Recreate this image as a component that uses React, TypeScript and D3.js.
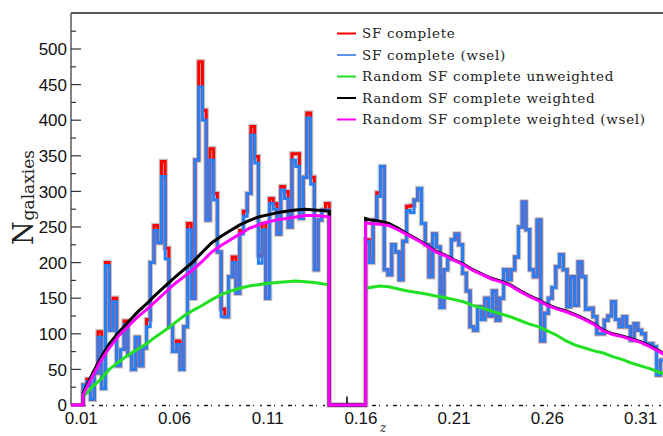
import React from "react";
import * as d3 from "d3";

// ---------- data ----------
const BIN = 0.002;
const LEFT_START = 0.011;
const RIGHT_START = 0.1625;

// SF complete (wsel) – blue histogram
const sfWselLeft = [28, 33, 8, 45, 95, 23, 196, 105, 145, 55,
  78, 113, 70, 50, 95, 55, 80, 110, 200, 245,
  228, 321, 205, 110, 75, 85, 50, 110, 246, 150,
  344, 447, 400, 260, 344, 288, 215, 124, 124, 180,
  200, 157, 240, 265, 297, 379, 340, 199, 246, 150,
  283, 275, 240, 302, 290, 250, 344, 335, 262, 320,
  403, 310, 190, 260, 274, 274];
const sfWselRight = [230, 200, 260, 293, 335, 190, 183, 225, 215, 176,
  230, 273, 270, 288, 304, 255, 225, 180, 240, 222,
  137, 190, 205, 232, 240, 225, 185, 160, 110, 105,
  138, 120, 150, 125, 160, 119, 150, 190, 176, 190,
  208, 250, 285, 246, 190, 180, 260, 90, 129, 150,
  165, 194, 211, 190, 138, 180, 140, 201, 180, 134,
  136, 124, 100, 100, 119, 125, 145, 120, 110, 124,
  110, 91, 114, 105, 100, 86, 86, 82, 42, 63];

// SF complete – red histogram
const sfLeft = [28, 36, 8, 45, 103, 23, 200, 105, 150, 55,
  78, 118, 70, 50, 95, 55, 80, 120, 200, 252,
  228, 342, 220, 110, 75, 90, 50, 110, 255, 150,
  344, 482, 414, 260, 360, 297, 215, 135, 124, 180,
  208, 157, 245, 272, 297, 391, 349, 210, 255, 150,
  290, 283, 240, 307, 300, 250, 353, 353, 262, 320,
  410, 320, 190, 260, 274, 283];
const sfRight = [232, 200, 260, 298, 335, 190, 183, 225, 215, 176,
  230, 279, 280, 288, 304, 255, 225, 180, 240, 222,
  137, 190, 205, 232, 240, 225, 185, 160, 110, 105,
  138, 120, 150, 125, 160, 119, 150, 190, 176, 190,
  208, 250, 285, 246, 190, 180, 260, 90, 129, 150,
  165, 194, 211, 190, 138, 180, 140, 201, 180, 134,
  136, 124, 100, 100, 119, 125, 145, 120, 110, 124,
  110, 91, 114, 105, 100, 86, 86, 82, 42, 63];

// random catalogues (model curves)
const zModelLeft = [0.011, 0.013, 0.016, 0.02, 0.025, 0.03, 0.035, 0.04, 0.045, 0.05,
  0.055, 0.06, 0.065, 0.07, 0.075, 0.08, 0.085, 0.09, 0.095, 0.1,
  0.105, 0.11, 0.115, 0.12, 0.125, 0.13, 0.135, 0.14, 0.143];
const magentaLeft = [14, 25, 40, 60, 80, 97, 110, 123, 134, 146,
  158, 170, 180, 190, 202, 215, 224, 232, 240, 248,
  253, 257, 260, 262, 264, 266, 266, 265, 264];
const blackLeft = [17, 28, 44, 64, 86, 102, 116, 130, 142, 155,
  167, 179, 190, 201, 215, 228, 237, 245, 253, 259,
  264, 267, 270, 272, 274, 275, 274, 273, 272];
const greenLeft = [12, 17, 26, 35, 50, 60, 70, 78, 86, 96,
  105, 115, 125, 133, 140, 148, 155, 160, 164, 167,
  169, 171, 172, 173, 174, 173, 172, 170, 169];

const zModelRight = [0.1625, 0.165, 0.17, 0.175, 0.18, 0.185, 0.19, 0.195, 0.2, 0.205,
  0.21, 0.215, 0.22, 0.225, 0.23, 0.235, 0.24, 0.245, 0.25, 0.255,
  0.26, 0.265, 0.27, 0.275, 0.28, 0.285, 0.29, 0.295, 0.3, 0.305,
  0.31, 0.315, 0.32, 0.3225];
const magentaRight = [256, 255, 254, 252, 246, 239, 232, 224, 215, 210,
  203, 197, 189, 183, 177, 173, 168, 160, 153, 147,
  140, 135, 131, 126, 120, 113, 104, 99, 96, 92,
  88, 82, 75, 71];
const blackRight = [262, 260, 258, 255, 248, 240, 233, 225, 216, 211,
  204, 198, 190, 184, 178, 174, 169, 161, 154, 148,
  141, 136, 132, 127, 121, 114, 105, 100, 97, 93,
  89, 83, 76, 72];
const greenRight = [164, 165, 167, 166, 163, 160, 158, 156, 153, 151,
  148, 145, 140, 136, 132, 128, 124, 119, 114, 110,
  104, 98, 90, 84, 80, 76, 73, 68, 64, 59,
  55, 51, 46, 44];

const gapSpike = { z: 0.1525, v: 12 };

const yTicks = [0, 50, 100, 150, 200, 250, 300, 350, 400, 450, 500];
const yMinor = [25, 75, 125, 175, 225, 275, 325, 375, 425, 475, 525];
const xTicks = [0.01, 0.06, 0.11, 0.16, 0.21, 0.26, 0.31];

const legendItems = [
  { label: "SF complete", color: "#ff0000" },
  { label: "SF complete (wsel)", color: "#5b93ee" },
  { label: "Random SF complete unweighted", color: "#22e022" },
  { label: "Random SF complete weighted", color: "#000000" },
  { label: "Random SF complete weighted (wsel)", color: "#ff00ff" },
];

// ---------- chart ----------
const W = 663;
const H = 436;
const X0 = 71, X1 = 663, Y0 = 405, YTOP = 13;

export default function App() {
  const x = d3.scaleLinear().domain([0.0045, 0.322]).range([X0, X1]);
  const y = d3.scaleLinear().domain([0, 500]).range([Y0, 49]);

  const line = d3.line<[number, number]>().x((d) => x(d[0])).y((d) => y(d[1]));

  const histPts = (left: number[], right: number[]) => {
    const pts: [number, number][] = [[LEFT_START, 0]];
    left.forEach((v, i) => {
      pts.push([LEFT_START + i * BIN, v]);
      pts.push([LEFT_START + (i + 1) * BIN, v]);
    });
    pts.push([LEFT_START + left.length * BIN, 0]);
    pts.push([RIGHT_START, 0]);
    right.forEach((v, i) => {
      pts.push([RIGHT_START + i * BIN, v]);
      pts.push([RIGHT_START + (i + 1) * BIN, v]);
    });
    return pts;
  };

  const modelPts = (zl: number[], vl: number[], zr: number[], vr: number[], closed: boolean) => {
    const pts: [number, number][] = [];
    if (closed) { pts.push([0.0045, 0]); pts.push([zl[0], 0]); }
    zl.forEach((z, i) => pts.push([z, vl[i]]));
    if (closed) { pts.push([zl[zl.length - 1], 0]); pts.push([zr[0], 0]); }
    zr.forEach((z, i) => pts.push([z, vr[i]]));
    return pts;
  };

  const redPath = line(histPts(sfLeft, sfRight)) || "";
  const bluePath = line(histPts(sfWselLeft, sfWselRight)) || "";
  const greenL = line(zModelLeft.map((z, i) => [z, greenLeft[i]] as [number, number])) || "";
  const greenR = line(zModelRight.map((z, i) => [z, greenRight[i]] as [number, number])) || "";
  const blackPath = line(modelPts(zModelLeft, blackLeft, zModelRight, blackRight, true)) || "";
  const magPath = line(modelPts(zModelLeft, magentaLeft, zModelRight, magentaRight, true)) || "";

  const axisColor = "#5a5a5a";

  return (
    <svg width={W} height={H} style={{ display: "block", position: "absolute", left: 0, top: 0 }}>
      <defs>
        <clipPath id="plotclip">
          <rect x={X0} y={YTOP} width={X1 - X0 + 5} height={Y0 - YTOP + 4} />
        </clipPath>
      </defs>
      <rect x={0} y={0} width={W} height={H} fill="#fff" />

      {/* frame */}
      <line x1={X0} x2={X1} y1={YTOP} y2={YTOP} stroke={axisColor} strokeWidth={2} />
      <line x1={X0} x2={X0} y1={YTOP} y2={Y0} stroke={axisColor} strokeWidth={1.5} />
      <line x1={X0} x2={X1} y1={Y0 + 0.5} y2={Y0 + 0.5} stroke="#222" strokeWidth={1.3} strokeDasharray="2 5 4 3 1 6" />

      {/* y ticks */}
      {yTicks.map((t) => (
        <g key={"yt" + t}>
          <line x1={X0} x2={X0 + 10} y1={y(t)} y2={y(t)} stroke="#333" strokeWidth={1.2} />
          <text x={67} y={y(t)} dy="0.36em" textAnchor="end" fontFamily="'Liberation Sans', Arial, sans-serif" fontSize={17} fill="#111">{t}</text>
        </g>
      ))}
      {yMinor.map((t) => (
        <line key={"ym" + t} x1={X0} x2={X0 + 5} y1={y(t)} y2={y(t)} stroke="#333" strokeWidth={1.2} />
      ))}

      {/* x tick labels */}
      {xTicks.map((t) => (
        <text key={"xt" + t} x={x(t)} y={424} textAnchor="middle" fontFamily="'Liberation Sans', Arial, sans-serif" fontSize={17} fill="#111">{t.toFixed(2)}</text>
      ))}

      {/* axis titles */}
      <text x={380} y={432} fontFamily="'DejaVu Serif', serif" fontStyle="italic" fontSize={12} fill="#222">z</text>
      <g transform="translate(33,245) rotate(-90)">
        <text x={0} y={0} fontFamily="'DejaVu Serif', serif" fill="#222">
          <tspan fontSize={27}>N</tspan>
          <tspan fontSize={17} dy={1} dx={1}>galaxies</tspan>
        </text>
      </g>

      <g clipPath="url(#plotclip)">
        {/* histograms */}
        <path d={redPath} fill="none" stroke="#c4c4c4" strokeWidth={5.5} strokeLinejoin="miter" />
        <path d={redPath} fill="none" stroke="#ff0000" strokeWidth={3} strokeLinejoin="miter" />
        <path d={bluePath} fill="none" stroke="#2a7ff5" strokeWidth={3} strokeLinejoin="miter" />
        {/* models */}
        <path d={greenL} fill="none" stroke="#22e022" strokeWidth={3} />
        <path d={greenR} fill="none" stroke="#22e022" strokeWidth={3} />
        <path d={blackPath} fill="none" stroke="#000" strokeWidth={3} />
        <line x1={x(gapSpike.z)} x2={x(gapSpike.z)} y1={y(0)} y2={y(gapSpike.v)} stroke="#000" strokeWidth={1.5} />
        <path d={magPath} fill="none" stroke="#ff00ff" strokeWidth={3} />
      </g>

      {/* legend */}
      {legendItems.map((it, i) => {
        const ly = 33.5 + i * 21.5;
        return (
          <g key={it.label}>
            <line x1={337} x2={356} y1={ly} y2={ly} stroke={it.color} strokeWidth={2} />
            <text x={362} y={ly} dy="0.35em" fontFamily="'DejaVu Serif', serif" fontSize={13.5} letterSpacing={0.7} fill="#222">{it.label}</text>
          </g>
        );
      })}
    </svg>
  );
}
